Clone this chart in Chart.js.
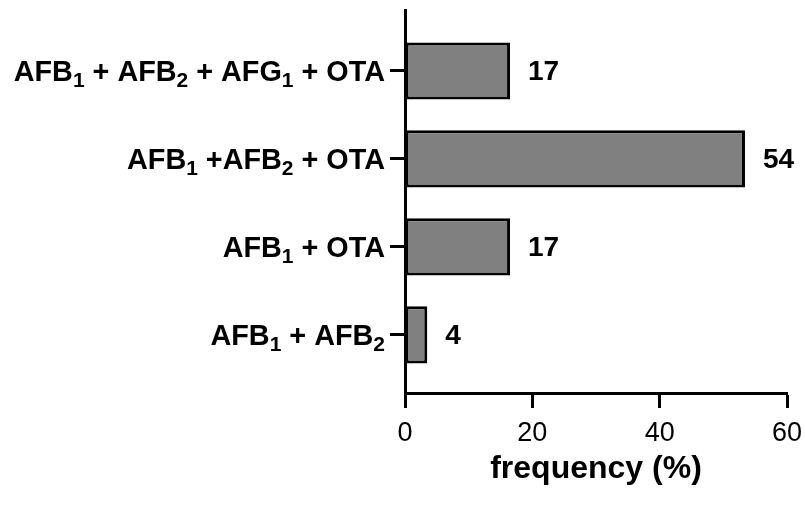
<!DOCTYPE html>
<html>
<head>
<meta charset="utf-8">
<script src="https://cdn.jsdelivr.net/npm/chart.js@4.4.0/dist/chart.umd.min.js"></script>
<style>
  html, body { margin: 0; padding: 0; background: #fff; }
  #wrap { width: 805px; height: 508px; }
</style>
</head>
<body>
<div id="wrap"><canvas id="c" width="805" height="508"></canvas></div>
<script>
// Category labels: "_n" marks a subscript digit
const categories = ['AFB_1 + AFB_2 + AFG_1 + OTA', 'AFB_1 +AFB_2 + OTA', 'AFB_1 + OTA', 'AFB_1 + AFB_2'];
const values = [16.5, 53.4, 16.5, 3.5];
const valueLabels = ['17', '54', '17', '4'];
const xTicks = [0, 20, 40, 60];

const FONT = 'Liberation Sans, Arial, Helvetica, sans-serif';

function drawRich(ctx, text, xRight, yMid, size, subSize, subDrop) {
  const parts = [];
  const re = /_(\d)/g;
  let last = 0, m;
  while ((m = re.exec(text)) !== null) {
    if (m.index > last) parts.push({ t: text.slice(last, m.index), sub: false });
    parts.push({ t: m[1], sub: true });
    last = re.lastIndex;
  }
  if (last < text.length) parts.push({ t: text.slice(last), sub: false });
  let total = 0;
  parts.forEach(p => {
    ctx.font = 'bold ' + (p.sub ? subSize : size) + 'px ' + FONT;
    p.w = ctx.measureText(p.t).width;
    total += p.w;
  });
  let x = xRight - total;
  ctx.textAlign = 'left';
  ctx.textBaseline = 'alphabetic';
  const base = yMid + size * 0.358;
  parts.forEach(p => {
    ctx.font = 'bold ' + (p.sub ? subSize : size) + 'px ' + FONT;
    ctx.fillText(p.t, x, p.sub ? base + subDrop : base);
    x += p.w;
  });
}

const labelPlugin = {
  id: 'labels',
  afterDatasetsDraw(chart) {
    const ctx = chart.ctx;
    const ys = chart.scales.y;
    ctx.save();
    ctx.fillStyle = '#000';
    categories.forEach((c, i) => {
      drawRich(ctx, c, ys.right - 20, ys.getPixelForValue(i), 28.8, 21, 6);
    });
    const meta = chart.getDatasetMeta(0);
    ctx.font = 'bold 28px ' + FONT;
    ctx.textAlign = 'left';
    ctx.textBaseline = 'middle';
    meta.data.forEach((bar, i) => {
      ctx.fillText(valueLabels[i], bar.x + 18, bar.y + 1);
    });
    ctx.restore();
  }
};

new Chart(document.getElementById('c'), {
  type: 'bar',
  data: {
    datasets: [{
      data: values.map((v, i) => ({ x: v, y: i })),
      backgroundColor: '#808080',
      borderColor: '#000',
      borderWidth: 3,
      borderSkipped: false,
      categoryPercentage: 1,
      barPercentage: 0.65
    }]
  },
  options: {
    indexAxis: 'y',
    responsive: false,
    animation: false,
    layout: { padding: { top: 10, right: 18, left: 0, bottom: 20 } },
    plugins: { legend: { display: false }, tooltip: { enabled: false } },
    scales: {
      x: {
        type: 'linear',
        min: 0, max: 60,
        afterBuildTicks: s => { s.ticks = xTicks.map(v => ({ value: v })); },
        afterFit: s => { s.height = 95; s.paddingLeft = 0; s.paddingRight = 0; },
        border: { display: true, color: '#000', width: 3 },
        grid: { drawOnChartArea: false, drawTicks: true, tickLength: 15, tickWidth: 3, tickColor: '#000' },
        ticks: { color: '#000', font: { family: FONT, size: 27 }, padding: 9, maxRotation: 0 },
        title: { display: true, text: 'frequency (%)', color: '#000', font: { family: FONT, size: 32, weight: 'bold' }, padding: { top: 10, bottom: 0 } }
      },
      y: {
        type: 'linear',
        reverse: true,
        offset: false,
        min: -0.693, max: 3.66,
        afterBuildTicks: s => { s.ticks = [0, 1, 2, 3].map(v => ({ value: v })); },
        afterFit: s => { s.width = 405; s.paddingTop = 0; s.paddingBottom = 0; },
        border: { display: true, color: '#000', width: 3 },
        grid: { offset: false, drawOnChartArea: false, drawTicks: true, tickLength: 15, tickWidth: 3, tickColor: '#000' },
        ticks: { color: 'rgba(0,0,0,0)', callback: () => '' }
      }
    }
  },
  plugins: [labelPlugin]
});
</script>
</body>
</html>
